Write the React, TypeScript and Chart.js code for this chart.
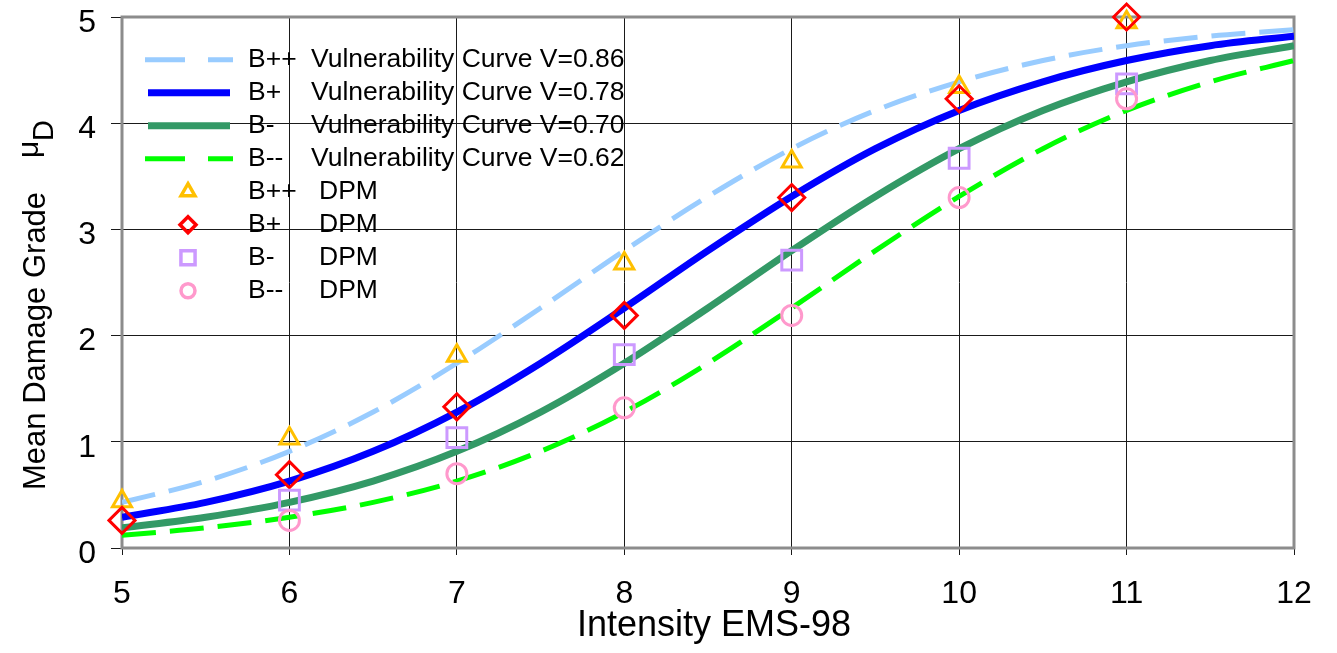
import React, { useEffect, useRef } from 'react';
import { Chart, registerables } from 'chart.js';

Chart.register(...registerables);

const FONT = '"Liberation Sans", Arial, Helvetica, sans-serif';

// Vulnerability curves (read at half-intensity steps)
const intensityCurve = [5, 5.5, 6, 6.5, 7, 7.5, 8, 8.5, 9, 9.5, 10, 10.5, 11, 11.5, 12];
const curveBpp = [0.43, 0.63, 0.91, 1.28, 1.74, 2.26, 2.8, 3.31, 3.76, 4.12, 4.39, 4.59, 4.73, 4.82, 4.88];
const curveBp = [0.29, 0.43, 0.63, 0.91, 1.28, 1.74, 2.26, 2.8, 3.31, 3.76, 4.12, 4.39, 4.59, 4.73, 4.82];
const curveBm = [0.19, 0.29, 0.43, 0.63, 0.91, 1.28, 1.74, 2.26, 2.8, 3.31, 3.76, 4.12, 4.39, 4.59, 4.73];
const curveBmm = [0.12, 0.19, 0.29, 0.43, 0.63, 0.91, 1.28, 1.74, 2.26, 2.8, 3.31, 3.76, 4.12, 4.39, 4.59];

// DPM points
const intensityDPM = [5, 6, 7, 8, 9, 10, 11];
const dpmBpp = [0.44, 1.03, 1.81, 2.68, 3.64, 4.34, 4.95];
const dpmBp = [0.26, 0.69, 1.33, 2.19, 3.3, 4.23, 5.0];
const dpmBm = [null, 0.45, 1.04, 1.82, 2.71, 3.67, 4.37];
const dpmBmm = [null, 0.26, 0.7, 1.32, 2.19, 3.3, 4.23];

const legendNames = ['B++', 'B+', 'B-', 'B--', 'B++', 'B+', 'B-', 'B--'];
const legendDescs = [
  'Vulnerability Curve V=0.86',
  'Vulnerability Curve V=0.78',
  'Vulnerability Curve V=0.70',
  'Vulnerability Curve V=0.62',
  'DPM',
  'DPM',
  'DPM',
  'DPM',
];
const xTitle = 'Intensity EMS-98';
const yTitle = 'Mean Damage Grade';
const yTitleSymbol = 'μ';
const yTitleSub = 'D';

const COLORS = {
  bpp: '#99CCFF',
  bp: '#0000FF',
  bm: '#339966',
  bmm: '#00FF00',
  tri: '#FFC000',
  dia: '#FF0000',
  sq: '#CC99FF',
  circ: '#FF99CC',
};

const pts = (xs: number[], ys: (number | null)[]) => xs.map((x, i) => ({ x, y: ys[i] }));

type LegendItem = {
  kind: 'line' | 'marker';
  color: string;
  dash?: number[];
  width?: number;
  style?: string;
  r?: number;
};

const legendItems: LegendItem[] = [
  { kind: 'line', color: COLORS.bpp, dash: [40, 23], width: 5 },
  { kind: 'line', color: COLORS.bp, width: 7 },
  { kind: 'line', color: COLORS.bm, width: 7 },
  { kind: 'line', color: COLORS.bmm, dash: [40, 23], width: 5 },
  { kind: 'marker', color: COLORS.tri, style: 'triangle', r: 8 },
  { kind: 'marker', color: COLORS.dia, style: 'rectRot', r: 8 },
  { kind: 'marker', color: COLORS.sq, style: 'rect', r: 10 },
  { kind: 'marker', color: COLORS.circ, style: 'circle', r: 7 },
];

function drawMarker(ctx: CanvasRenderingContext2D, style: string, x: number, y: number, r: number) {
  ctx.beginPath();
  if (style === 'triangle') {
    const s = Math.sin((2 * Math.PI) / 3) * r;
    ctx.moveTo(x, y - r);
    ctx.lineTo(x + s, y + 0.5 * r);
    ctx.lineTo(x - s, y + 0.5 * r);
    ctx.closePath();
  } else if (style === 'rectRot') {
    ctx.moveTo(x - r, y);
    ctx.lineTo(x, y - r);
    ctx.lineTo(x + r, y);
    ctx.lineTo(x, y + r);
    ctx.closePath();
  } else if (style === 'rect') {
    const s = Math.SQRT1_2 * r;
    ctx.rect(x - s, y - s, 2 * s, 2 * s);
  } else {
    ctx.arc(x, y, r, 0, Math.PI * 2);
  }
  ctx.stroke();
}

const decorPlugin = {
  id: 'decor',
  beforeDatasetsDraw(chart: any) {
    const { ctx, chartArea } = chart;
    ctx.save();
    ctx.strokeStyle = '#8c8c8c';
    ctx.lineWidth = 3;
    ctx.strokeRect(chartArea.left, chartArea.top, chartArea.right - chartArea.left, chartArea.bottom - chartArea.top);
    ctx.restore();
  },
  afterDatasetsDraw(chart: any) {
    const { ctx, chartArea } = chart;
    ctx.save();
    const left = chartArea.left;
    const top = chartArea.top;
    legendItems.forEach((item, i) => {
      const y = top + 42.7 + i * 33;
      if (item.kind === 'line') {
        ctx.save();
        ctx.strokeStyle = item.color;
        ctx.lineWidth = item.width || 5;
        ctx.lineCap = 'butt';
        ctx.setLineDash(item.dash || []);
        ctx.beginPath();
        const x0 = item.dash ? left + 23 : left + 26;
        const x1 = item.dash ? left + 111 : left + 108;
        ctx.moveTo(x0, y);
        ctx.lineTo(x1, y);
        ctx.stroke();
        ctx.restore();
      } else {
        ctx.save();
        ctx.strokeStyle = item.color;
        ctx.lineWidth = 3.5;
        ctx.setLineDash([]);
        drawMarker(ctx, item.style || 'circle', left + 66, y, item.r || 8);
        ctx.restore();
      }
      ctx.fillStyle = '#000';
      ctx.font = `26.5px ${FONT}`;
      ctx.textBaseline = 'middle';
      ctx.textAlign = 'left';
      ctx.fillText(legendNames[i], left + 126, y);
      ctx.fillText(legendDescs[i], item.kind === 'line' ? left + 189 : left + 197, y);
    });
    ctx.restore();
  },
  afterDraw(chart: any) {
    const { ctx, chartArea } = chart;
    ctx.save();
    ctx.fillStyle = '#000';
    // x title
    ctx.font = `36px ${FONT}`;
    ctx.textAlign = 'center';
    ctx.textBaseline = 'alphabetic';
    ctx.fillText(xTitle, (chartArea.left + chartArea.right) / 2 + 6, 636);
    // y title (rotated)
    ctx.translate(45, 0);
    ctx.rotate(-Math.PI / 2);
    ctx.font = `31px ${FONT}`;
    ctx.textAlign = 'left';
    ctx.textBaseline = 'alphabetic';
    ctx.fillText(yTitle, -490, 0);
    ctx.font = `30px ${FONT}`;
    ctx.fillText(yTitleSymbol, -158, -7);
    ctx.font = `29px ${FONT}`;
    ctx.fillText(yTitleSub, -141, 8);
    ctx.restore();
  },
};

export default function App() {
  const ref = useRef<HTMLCanvasElement>(null);
  useEffect(() => {
    if (!ref.current) return;
    const lineBase = {
      type: 'line' as const,
      pointRadius: 0,
      pointHoverRadius: 0,
      fill: false,
      cubicInterpolationMode: 'monotone' as const,
      borderCapStyle: 'butt' as const,
    };
    const markerBase = {
      type: 'line' as const,
      showLine: false,
      pointBorderWidth: 3,
      pointBackgroundColor: 'rgba(0,0,0,0)',
      backgroundColor: 'rgba(0,0,0,0)',
      clip: false as any,
    };
    const chart = new Chart(ref.current, {
      type: 'line',
      data: {
        datasets: [
          { ...lineBase, label: 'B++ Vulnerability Curve V=0.86', data: pts(intensityCurve, curveBpp), borderColor: COLORS.bpp, borderWidth: 5, borderDash: [34, 14], order: 7 },
          { ...lineBase, label: 'B+ Vulnerability Curve V=0.78', data: pts(intensityCurve, curveBp), borderColor: COLORS.bp, borderWidth: 7, order: 6 },
          { ...lineBase, label: 'B- Vulnerability Curve V=0.70', data: pts(intensityCurve, curveBm), borderColor: COLORS.bm, borderWidth: 7, order: 5 },
          { ...lineBase, label: 'B-- Vulnerability Curve V=0.62', data: pts(intensityCurve, curveBmm), borderColor: COLORS.bmm, borderWidth: 5, borderDash: [34, 14], order: 4 },
          { ...markerBase, label: 'B++ DPM', data: pts(intensityDPM, dpmBpp), borderColor: COLORS.tri, pointBorderColor: COLORS.tri, pointStyle: 'triangle', pointRadius: 11, order: 3 },
          { ...markerBase, label: 'B+ DPM', data: pts(intensityDPM, dpmBp), borderColor: COLORS.dia, pointBorderColor: COLORS.dia, pointStyle: 'rectRot', pointRadius: 13, order: 2 },
          { ...markerBase, label: 'B- DPM', data: pts(intensityDPM, dpmBm), borderColor: COLORS.sq, pointBorderColor: COLORS.sq, pointStyle: 'rect', pointRadius: 14, order: 1 },
          { ...markerBase, label: 'B-- DPM', data: pts(intensityDPM, dpmBmm), borderColor: COLORS.circ, pointBorderColor: COLORS.circ, pointStyle: 'circle', pointRadius: 10, order: 0 },
        ] as any,
      },
      options: {
        responsive: false,
        animation: false,
        devicePixelRatio: 1,
        layout: { padding: { left: 0, right: 43, top: 15, bottom: 0 } },
        plugins: {
          legend: { display: false },
          tooltip: { enabled: false },
        },
        scales: {
          x: {
            type: 'linear',
            min: 5,
            max: 12,
            ticks: { stepSize: 1, color: '#000', font: { family: FONT, size: 32 }, padding: 20 },
            grid: { color: '#1a1a1a', lineWidth: 1, tickLength: 7, tickColor: '#1a1a1a' },
            border: { display: false },
            afterFit: (s: any) => {
              s.height = 105;
              s.paddingLeft = 0;
              s.paddingRight = 0;
            },
          },
          y: {
            type: 'linear',
            min: 0,
            max: 5,
            ticks: { stepSize: 1, color: '#000', font: { family: FONT, size: 32 }, padding: 15, labelOffset: 6 },
            grid: { color: '#1a1a1a', lineWidth: 1, tickLength: 11, tickColor: '#1a1a1a' },
            border: { display: false },
            afterFit: (s: any) => {
              s.width = 122;
              s.paddingTop = 0;
              s.paddingBottom = 0;
            },
          },
        },
      } as any,
      plugins: [decorPlugin],
    });
    return () => chart.destroy();
  }, []);
  return (
    <div style={{ position: 'absolute', left: 0, top: 0, width: 1337, height: 653 }}>
      <canvas ref={ref} width={1337} height={653} style={{ display: 'block', width: 1337, height: 653 }} />
    </div>
  );
}
